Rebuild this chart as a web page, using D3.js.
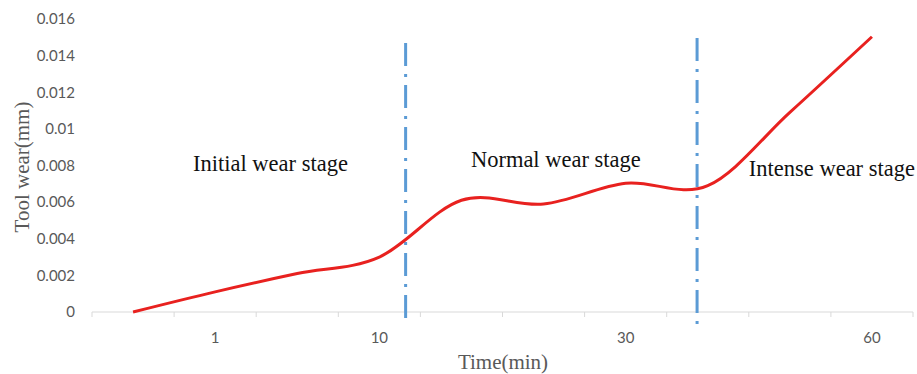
<!DOCTYPE html>
<html><head><meta charset="utf-8">
<script src="https://cdn.jsdelivr.net/npm/d3@7/dist/d3.min.js"></script>
<style>body{margin:0;background:#fff}svg{display:block}</style>
</head><body>
<svg id="c" width="917" height="374"></svg>
<script>
const categories = ["", "1", "", "10", "", "", "30", "", "", "60"];
const wear = [0, 0.0011, 0.0021, 0.003, 0.0061, 0.0059, 0.00703, 0.0069, 0.0109, 0.01503];
const yTicks = [0, 0.002, 0.004, 0.006, 0.008, 0.01, 0.012, 0.014, 0.016];
const stageBounds = [3.32, 6.87];
const stageTops = [0.01469, 0.01496];
const stageLabels = ["Initial wear stage", "Normal wear stage", "Intense wear stage"];
const stageLabelPos = [[0.73, 0.0077], [4.115, 0.0079], [7.5, 0.0074]];

const svg = d3.select("#c");
const x = d3.scaleLinear().domain([-0.5, categories.length - 0.5]).range([92, 913]);
const y = d3.scaleLinear().domain([0, 0.016]).range([312, 19]);

// x axis
const gx = svg.append("g").attr("transform", `translate(0,${y(0)})`);
gx.append("line").attr("x1", x(-0.5)).attr("x2", x(categories.length - 0.5))
  .attr("stroke", "#d9d9d9").attr("stroke-width", 1);
d3.range(categories.length + 1).forEach(i => {
  gx.append("line").attr("x1", x(i - 0.5)).attr("x2", x(i - 0.5)).attr("y1", 0).attr("y2", 5)
    .attr("stroke", "#d9d9d9").attr("stroke-width", 1);
});
categories.forEach((c, i) => {
  if (!c) return;
  gx.append("text").attr("x", x(i)).attr("y", 31).attr("text-anchor", "middle")
    .attr("font-family", "Lato, 'Open Sans', sans-serif").attr("font-size", 15).attr("fill", "#595959").text(c);
});

// y tick labels
yTicks.forEach(t => {
  svg.append("text").attr("x", 75).attr("y", y(t)).attr("dy", "0.35em").attr("text-anchor", "end")
    .attr("font-family", "Lato, 'Open Sans', sans-serif").attr("font-size", 15).attr("fill", "#595959")
    .text(t === 0 ? "0" : d3.format("")(+t.toFixed(3)));
});

// axis titles
svg.append("text").attr("transform", `translate(29,${167}) rotate(-90)`).attr("text-anchor", "middle")
  .attr("font-family", "'Liberation Serif', 'Times New Roman', serif").attr("font-size", 21).attr("fill", "#595959")
  .text("Tool wear(mm)");
svg.append("text").attr("x", 503).attr("y", 369).attr("text-anchor", "middle")
  .attr("font-family", "'Liberation Serif', 'Times New Roman', serif").attr("font-size", 21).attr("fill", "#595959")
  .text("Time(min)");

// stage boundary lines
stageBounds.forEach((b, i) => {
  svg.append("line").attr("x1", x(b)).attr("x2", x(b)).attr("y1", y(stageTops[i])).attr("y2", y(-0.00066))
    .attr("stroke", "#5b9bd5").attr("stroke-width", 3).attr("stroke-dasharray", "23,8,3,8");
});

// curve
const line = d3.line().x((d, i) => x(i)).y(d => y(d)).curve(d3.curveCardinal.tension(0));
svg.append("path").datum(wear).attr("d", line).attr("fill", "none")
  .attr("stroke", "#e8211f").attr("stroke-width", 3);

// stage labels
stageLabels.forEach((s, i) => {
  svg.append("text").attr("x", x(stageLabelPos[i][0])).attr("y", y(stageLabelPos[i][1]))
    .attr("font-family", "'Liberation Serif', 'Times New Roman', serif").attr("font-size", 22.5).attr("fill", "#111")
    .text(s);
});
</script>
</body></html>
